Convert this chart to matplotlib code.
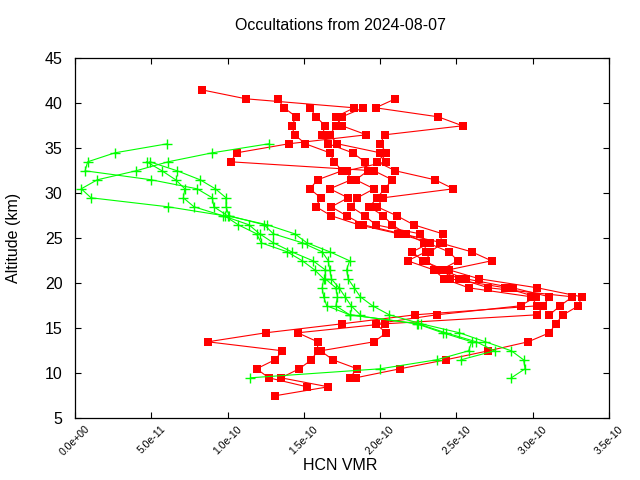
import numpy as np
import matplotlib
matplotlib.use("Agg")
import matplotlib.pyplot as plt
from matplotlib.ticker import FuncFormatter

plt.rcParams['font.family'] = ['Liberation Sans', 'DejaVu Sans']

SCALE = 1e-10  # values below are in units of 1e-10

# Red profiles: (top altitude km, HCN VMR values going down 1 km per step)
red_tops = [41.5, 40.5, 40.5, 39.5, 39.5]
red_vals = [
    [0.83, 1.12, 1.83, 1.71, 1.75, 1.91, 1.40, 1.06, 1.02, 1.96, 2.08, 2.03, 1.98, 1.93, 2.02, 2.08, 2.17,
     2.29, 2.30, 2.18, 2.35, 2.42, 2.58, 2.99, 3.03, 2.23, 1.75, 1.25, 0.87, 1.36, 1.31, 1.19, 1.27, 1.52],
    [1.33, 1.37, 1.45, 1.42, 1.44, 1.51, 1.67, 1.70, 1.75, 1.59, 1.54, 1.61, 1.58, 1.68, 1.86, 2.12,
     2.33, 2.21, 2.28, 2.42, 2.46, 2.82, 3.02, 2.92, 2.37, 1.97, 2.04, 1.96, 1.61, 1.69, 1.85, 1.80],
    [2.10, 1.97, 2.38, 2.54, 2.03, 2.00, 2.04, 1.98, 2.10, 2.36, 2.48, 2.02, 1.98, 2.11, 2.22, 2.41,
     2.39, 2.60, 2.73, 2.45, 2.65, 3.03, 3.32, 3.30, 3.20, 3.15, 3.11, 2.97, 2.71, 2.43, 2.13, 1.84],
    [1.54, 1.58, 1.64, 1.62, 1.66, 1.82, 1.90, 1.92, 1.84, 1.96, 1.85, 1.81, 1.90, 1.97, 2.26, 2.31,
     2.45, 2.51, 2.40, 2.56, 2.87, 3.11, 3.07, 3.03, 2.03, 1.46, 1.59, 1.59, 1.55, 1.47, 1.35, 1.66, 1.31],
    [1.89, 1.75, 1.71, 1.67, 1.72, 2.00, 2.04, 1.78, 1.81, 1.67, 1.79, 1.68, 1.78, 1.89, 2.14, 2.41,
     2.33, 2.30, 2.38, 2.52, 2.71, 3.26, 3.18, 3.11],
]

# Green profiles
green_tops = [35.5, 35.5, 33.5, 33.5]
green_vals = [
    [1.27, 0.90, 0.61, 0.40, 0.146, 0.041, 0.105, 0.61, 0.98, 1.07, 1.19, 1.22, 1.39, 1.49, 1.57, 1.63,
     1.62, 1.63, 1.65, 1.80, 2.24, 2.41, 2.60, 2.58, 2.37, 2.00, 1.15],
    [0.605, 0.262, 0.083, 0.066, 0.50, 0.80, 0.90, 0.91, 1.00, 1.26, 1.44, 1.52, 1.67, 1.80, 1.78, 1.79,
     1.83, 1.87, 1.95, 2.06, 2.27, 2.52, 2.69, 2.86, 2.94, 2.95, 2.86],
    [0.47, 0.57, 0.66, 0.72, 0.71, 0.78, 0.97, 1.14, 1.21, 1.30, 1.42, 1.56, 1.64, 1.64, 1.71, 1.72,
     1.71, 1.80, 2.25, 2.43, 2.63, 2.75, 2.53],
    [0.49, 0.67, 0.82, 0.92, 0.99, 0.99, 1.01, 1.24, 1.30, 1.49, 1.62, 1.66, 1.67, 1.68, 1.73, 1.77,
     1.81, 1.87],
]

x_ticks = [0, 0.5, 1.0, 1.5, 2.0, 2.5, 3.0, 3.5]
y_ticks = [5, 10, 15, 20, 25, 30, 35, 40, 45]

W, H = 640, 480
fig = plt.figure(figsize=(6.4, 4.8), dpi=100)
ax = fig.add_axes([75/W, 1 - 418.3/H, (609-75)/W, (418.3-58.3)/H])

for top, vals in zip(red_tops, red_vals):
    alt = top - np.arange(len(vals))
    ax.plot(np.array(vals) * SCALE, alt, color='#ff0000', lw=0.8,
            marker='s', markersize=6, markeredgewidth=0)
for top, vals in zip(green_tops, green_vals):
    alt = top - np.arange(len(vals))
    ax.plot(np.array(vals) * SCALE, alt, color='#00ff00', lw=0.8,
            marker='+', markersize=7, markeredgewidth=1.0)

ax.set_xlim(0, 3.5 * SCALE)
ax.set_ylim(5, 45)
ax.set_xticks([v * SCALE for v in x_ticks])
ax.set_yticks(y_ticks)
ax.xaxis.set_major_formatter(FuncFormatter(lambda v, p: f"{v:.1e}"))
ax.tick_params(direction='in', top=True, right=True, length=4, width=0.8, labelsize=11.5)
ax.tick_params(axis='y', pad=9)
ax.tick_params(axis='x', labelsize=7.5, pad=4)
for lab in ax.get_xticklabels():
    lab.set_rotation(45)
    lab.set_ha('center')
    lab.set_va('top')
for s in ax.spines.values():
    s.set_linewidth(0.9)

fig.text(340/W, 1 - 466/H, 'HCN VMR', fontsize=11.5, ha='center', va='center')
fig.text(14/W, 1 - 238/H, 'Altitude (km)', fontsize=11.5, ha='center', va='center', rotation=90)
fig.text(340/W, 1 - 25/H, 'Occultations from 2024-08-07', fontsize=11.5, ha='center', va='center')

fig.savefig('out.png', dpi=100)
